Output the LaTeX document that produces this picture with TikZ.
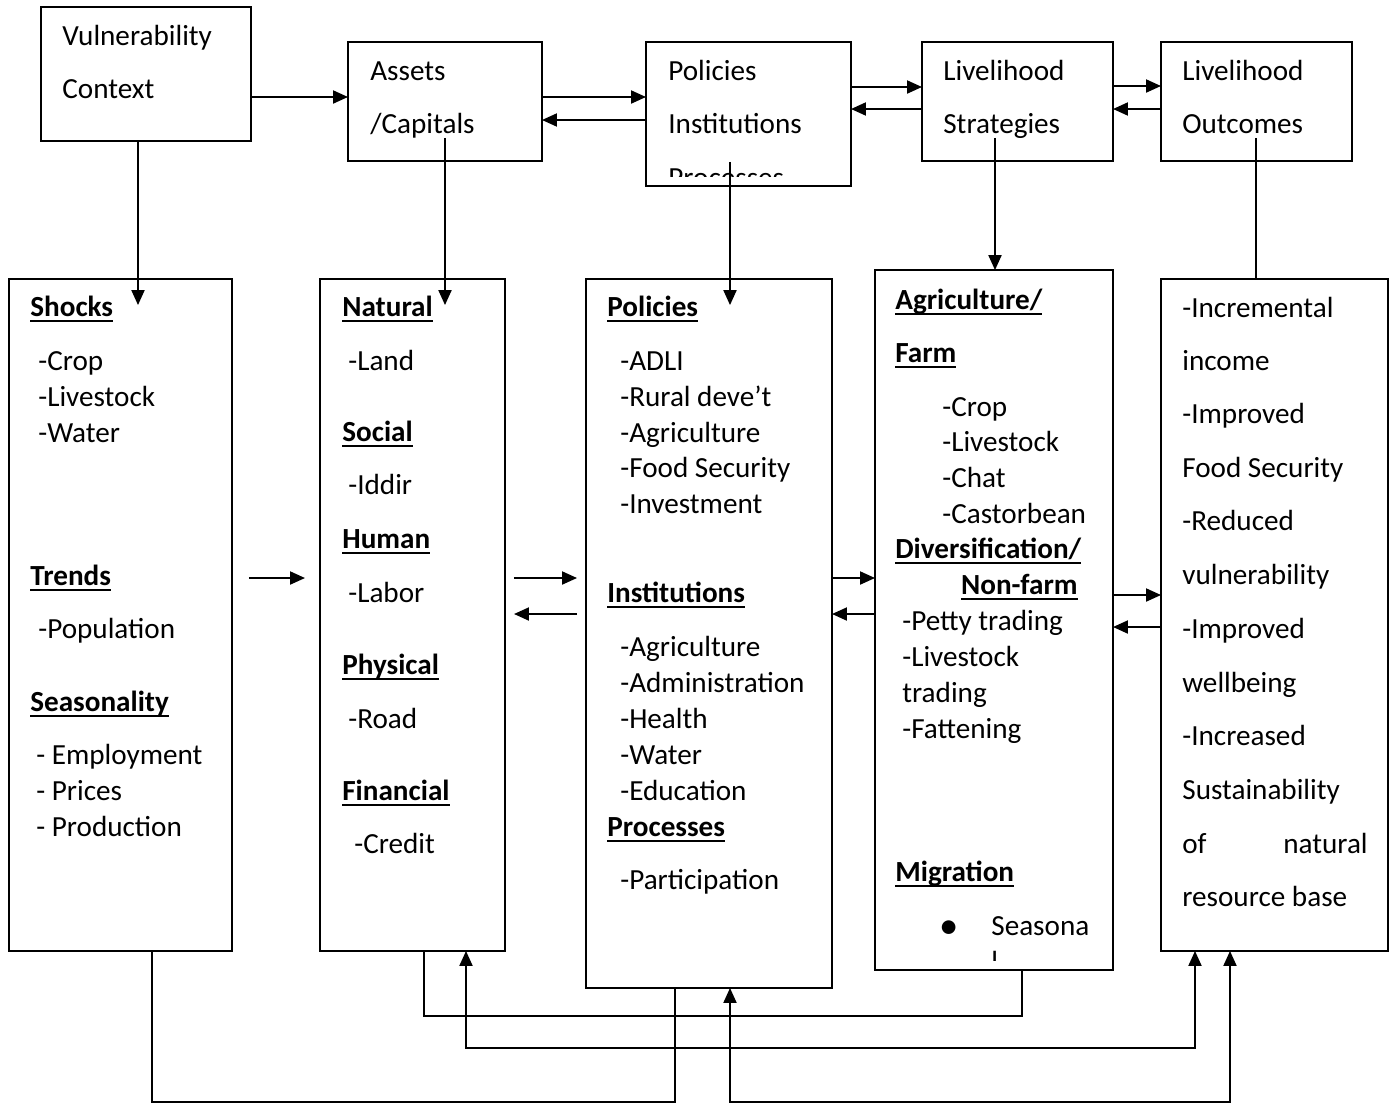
\documentclass[tikz,border=0pt]{standalone}
\usepackage{fontspec}
\setmainfont{Carlito}
\usetikzlibrary{arrows.meta, calc}
% bold heading with a word-style underline
\newcommand{\hd}[1]{\setbox0\hbox{\bfseries #1}\rlap{\rule[-3.6pt]{\wd0}{1.1pt}}\box0}

\begin{document}
\begin{tikzpicture}[x=0.02cm, y=-0.02cm,
  frame/.style={draw, line width=0.04cm, inner sep=0pt, outer sep=0pt},
  txt/.style={anchor=base west, inner sep=0pt, font=\fontsize{16.6}{20}\selectfont},
  link/.style={line width=0.04cm},
  arr/.style={link, -{Triangle[length=0.3cm, width=0.26cm]}},
  arrs/.style={link, {Triangle[length=0.3cm, width=0.26cm]}-{Triangle[length=0.3cm, width=0.26cm]}},
]
  \useasboundingbox (0,0) rectangle (1396,1103);

  % top row
  \node[frame, minimum width=4.2cm, minimum height=2.68cm] (vul) at (146,74) {};
  \node[frame, minimum width=3.88cm, minimum height=2.38cm] (ast) at (445,101.5) {};
  \node[frame, minimum width=4.1cm, minimum height=2.88cm] (pol) at (748.5,114) {};
  \node[frame, minimum width=3.82cm, minimum height=2.38cm] (str) at (1017.5,101.5) {};
  \node[frame, minimum width=3.82cm, minimum height=2.38cm] (out) at (1256.5,101.5) {};

  \node[txt] (vul-1) at (62,45) {Vulnerability};
  \node[txt] (vul-2) at (62,98) {Context};
  \node[txt] (ast-1) at (370,80) {Assets};
  \node[txt] (ast-2) at (370,133) {/Capitals};
  \node[txt] (pol-1) at (668,80) {Policies};
  \node[txt] (pol-2) at (668,133) {Institutions};
  \begin{scope}
    \clip (646,42) rectangle (851,176);
    \node[txt] (pol-3) at (668,187) {Processes};
  \end{scope}
  \node[txt] (str-1) at (943,80) {Livelihood};
  \node[txt] (str-2) at (943,133) {Strategies};
  \node[txt] (out-1) at (1182,80) {Livelihood};
  \node[txt] (out-2) at (1182,133) {Outcomes};

  % bottom row
  \node[frame, minimum width=4.46cm, minimum height=13.44cm] (shk) at (120.5,615) {};
  \node[frame, minimum width=3.7cm, minimum height=13.44cm] (cap) at (412.5,615) {};
  \node[frame, minimum width=4.92cm, minimum height=14.18cm] (pik) at (709,633.5) {};
  \node[frame, minimum width=4.76cm, minimum height=14cm] (agr) at (994,620) {};
  \node[frame, minimum width=4.54cm, minimum height=13.44cm] (res) at (1274.5,615) {};

  \foreach \xx/\yy/\lbl [count=\i] in {30/316/{\hd{Shocks}}, 38/370/-Crop,
      38/406/-Livestock, 38/442/-Water, 30/585/{\hd{Trends}}, 38/638/-Population,
      30/711/{\hd{Seasonality}}, 36/764/- Employment, 36/800/- Prices,
      36/836/- Production}
    \node[txt] (shk-\i) at (\xx,\yy) {\lbl};

  \foreach \xx/\yy/\lbl [count=\i] in {342/316/{\hd{Natural}}, 348/370/-Land,
      342/441/{\hd{Social}}, 348/494/-Iddir, 342/548/{\hd{Human}}, 348/602/-Labor,
      342/674/{\hd{Physical}}, 348/728/-Road, 342/800/{\hd{Financial}},
      354/853/-Credit}
    \node[txt] (cap-\i) at (\xx,\yy) {\lbl};

  \foreach \xx/\yy/\lbl [count=\i] in {607/316/{\hd{Policies}}, 620/370/-ADLI,
      620/406/{-Rural deve’t}, 620/442/-Agriculture, 620/477/-Food Security,
      620/513/-Investment, 607/602/{\hd{Institutions}}, 620/656/-Agriculture,
      620/692/-Administration, 620/728/-Health, 620/764/-Water,
      620/800/-Education, 607/836/{\hd{Processes}}, 620/889/-Participation}
    \node[txt] (pik-\i) at (\xx,\yy) {\lbl};

  \foreach \xx/\yy/\lbl [count=\i] in {895/309/{\hd{Agriculture/}},
      895/362/{\hd{Farm}}, 942/416/-Crop, 942/451/-Livestock, 942/487/-Chat,
      942/523/-Castorbean, 895/558/{\hd{Diversification/}},
      902/630/-Petty trading, 902/666/-Livestock, 902/702/trading,
      902/738/-Fattening, 895/881/{\hd{Migration}}, 991/935/Seasona}
    \node[txt] (agr-\i) at (\xx,\yy) {\lbl};
  \node[txt, anchor=base east] (agr-nf) at (1078,594) {\hd{Non-farm}};
  \node[txt, font=\fontsize{22}{22}\selectfont] (agr-bl) at (939,938) {\textbullet};
  \begin{scope}
    \clip (876,940) rectangle (1112,960);
    \node[txt] (agr-l) at (991,971) {l};
  \end{scope}

  \foreach \xx/\yy/\lbl [count=\i] in {1182/317/-Incremental, 1182/370/income,
      1182/423/-Improved, 1182/477/Food Security, 1182/530/-Reduced,
      1182/584/vulnerability, 1182/638/-Improved, 1182/692/wellbeing,
      1182/745/-Increased, 1182/799/Sustainability, 1182/853/of,
      1182/906/resource base}
    \node[txt] (res-\i) at (\xx,\yy) {\lbl};
  \node[txt, anchor=base east] (res-nat) at (1368,853) {natural};

  % top links
  \draw[arr] (vul.east |- 0,97) -- (ast.west |- 0,97);
  \draw[arr] (ast.east |- 0,97) -- (pol.west |- 0,97);
  \draw[arr] (pol.west |- 0,120) -- (ast.east |- 0,120);
  \draw[arr] (pol.east |- 0,87) -- (str.west |- 0,87);
  \draw[arr] (str.west |- 0,109) -- (pol.east |- 0,109);
  \draw[arr] (str.east |- 0,86) -- (out.west |- 0,86);
  \draw[arr] (out.west |- 0,109) -- (str.east |- 0,109);

  % top to bottom
  \draw[arr] (vul.south -| 138,0) -- ($(shk.north -| 138,0)+(0,26)$);
  \draw[arr] ($(ast.south)+(0,-23)$) -- ($(cap.north -| ast.south)+(0,26)$);
  \draw[arr] ($(pol.south -| 730,0)+(0,-24)$) -- ($(pik.north -| 730,0)+(0,26)$);
  \draw[arr] ($(str.south -| 995,0)+(0,-23)$) -- (agr.north -| 995,0);
  \draw[link] ($(out.south -| 1256,0)+(0,-23)$) -- (res.north -| 1256,0);

  % middle links
  \draw[arr] ($(shk.east |- 0,578)+(17,0)$) -- ($(cap.west |- 0,578)+(-15,0)$);
  \draw[arr] ($(cap.east |- 0,578)+(9,0)$) -- ($(pik.west |- 0,578)+(-9,0)$);
  \draw[arr] ($(pik.west |- 0,614)+(-9,0)$) -- ($(cap.east |- 0,614)+(9,0)$);
  \draw[arr] (pik.east |- 0,578) -- (agr.west |- 0,578);
  \draw[arr] (agr.west |- 0,614) -- (pik.east |- 0,614);
  \draw[arr] (agr.east |- 0,595) -- (res.west |- 0,595);
  \draw[arr] (res.west |- 0,627) -- (agr.east |- 0,627);

  % bottom loops
  \draw[link] (shk.south -| 152,0) -- ++(0,151) -| (pik.south -| 675,0);
  \draw[link] (cap.south -| 424,0) -- ++(0,65) -| (agr.south -| 1022,0);
  \draw[arrs] (cap.south -| 466,0) -- ++(0,97) -| (res.south -| 1195,0);
  \draw[arrs] (pik.south -| 730,0) -- ++(0,114) -| (res.south -| 1230,0);
\end{tikzpicture}
\end{document}
